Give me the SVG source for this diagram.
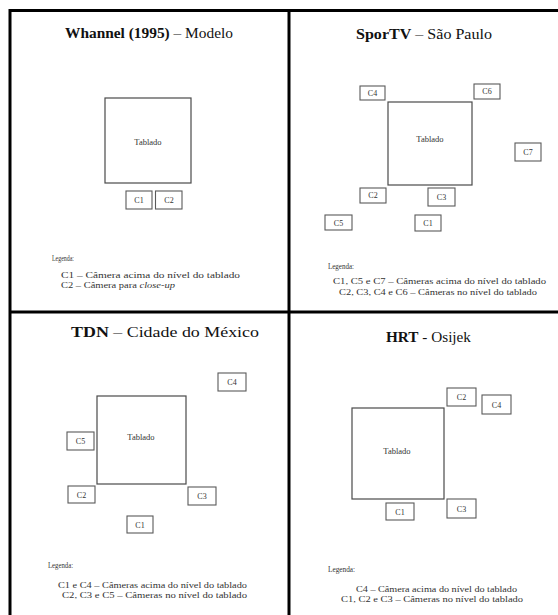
<svg xmlns="http://www.w3.org/2000/svg" width="558" height="615" viewBox="0 0 558 615" font-family="'Liberation Serif', 'DejaVu Serif', serif">
<style>
text{font-family:'Liberation Serif','DejaVu Serif',serif;fill:#1a1a1a}
.frame{stroke:#000;stroke-width:3;fill:none}
.stage{fill:#fff;stroke:#4a4a4a;stroke-width:1.2}
.cam{fill:#fff;stroke:#5a5a5a;stroke-width:1.1}
.camt{font-size:8px;text-anchor:middle;fill:#333}
.stt{font-size:8.5px;text-anchor:middle;fill:#333}
.title{font-size:14px;text-anchor:middle;fill:#111}
.b{font-weight:bold}
.leg{font-size:8px;fill:#333}
</style>
<rect width="558" height="615" fill="#fff"/>
<g id="frame">
<line class="frame" x1="10" y1="10.5" x2="560" y2="10.5"/>
<line class="frame" x1="10" y1="9" x2="10" y2="617"/>
<line class="frame" x1="289" y1="10" x2="289" y2="617"/>
<line class="frame" x1="10" y1="312" x2="560" y2="312"/>
</g>

<g id="panel-whannel">
<text class="title" x="149" y="38" textLength="168" lengthAdjust="spacingAndGlyphs"><tspan class="b">Whannel (1995)</tspan> – Modelo</text>
<g id="w-tablado"><rect class="stage" x="105" y="98" width="86" height="85"/><text class="stt" x="148" y="145">Tablado</text></g>
<g id="w-c1"><rect class="cam" x="126" y="191" width="26" height="18"/><text class="camt" x="139" y="203">C1</text></g>
<g id="w-c2"><rect class="cam" x="155.5" y="191" width="26.5" height="18"/><text class="camt" x="169" y="203">C2</text></g>
<g id="w-legend">
<text class="leg" x="52" y="261" textLength="22" lengthAdjust="spacingAndGlyphs">Legenda:</text>
<text class="leg" x="61" y="278" textLength="179" lengthAdjust="spacingAndGlyphs">C1 – Câmera acima do nível do tablado</text>
<text class="leg" x="61" y="288" textLength="114" lengthAdjust="spacingAndGlyphs">C2 – Câmera para <tspan font-style="italic">close-up</tspan></text>
</g>
</g>

<g id="panel-sportv">
<text class="title" x="424" y="39" textLength="136" lengthAdjust="spacingAndGlyphs"><tspan class="b">SporTV</tspan> – São Paulo</text>
<g id="s-tablado"><rect class="stage" x="388" y="102" width="84" height="83"/><text class="stt" x="430" y="142">Tablado</text></g>
<g id="s-c4"><rect class="cam" x="360" y="86" width="25" height="14"/><text class="camt" x="372.5" y="95.5">C4</text></g>
<g id="s-c6"><rect class="cam" x="474" y="84" width="26" height="15"/><text class="camt" x="487" y="94">C6</text></g>
<g id="s-c7"><rect class="cam" x="515" y="143" width="26" height="18"/><text class="camt" x="528" y="155">C7</text></g>
<g id="s-c2"><rect class="cam" x="360" y="188" width="26" height="15"/><text class="camt" x="373" y="198">C2</text></g>
<g id="s-c3"><rect class="cam" x="428" y="188" width="27" height="18"/><text class="camt" x="441.5" y="200">C3</text></g>
<g id="s-c5"><rect class="cam" x="325" y="215" width="27" height="15"/><text class="camt" x="338.5" y="225.5">C5</text></g>
<g id="s-c1"><rect class="cam" x="415" y="215" width="26" height="16"/><text class="camt" x="428" y="226">C1</text></g>
<g id="s-legend">
<text class="leg" x="328" y="269" textLength="26" lengthAdjust="spacingAndGlyphs">Legenda:</text>
<text class="leg" x="333" y="284" textLength="213" lengthAdjust="spacingAndGlyphs">C1, C5 e C7 – Câmeras acima do nível do tablado</text>
<text class="leg" x="339" y="295" textLength="198" lengthAdjust="spacingAndGlyphs">C2, C3, C4 e C6 – Câmeras no nível do tablado</text>
</g>
</g>

<g id="panel-tdn">
<text class="title" x="165" y="337" textLength="188" lengthAdjust="spacingAndGlyphs"><tspan class="b">TDN</tspan> – Cidade do México</text>
<g id="t-tablado"><rect class="stage" x="97" y="396" width="89" height="88"/><text class="stt" x="141" y="440">Tablado</text></g>
<g id="t-c4"><rect class="cam" x="218" y="373" width="28" height="18"/><text class="camt" x="232" y="385">C4</text></g>
<g id="t-c5"><rect class="cam" x="67" y="432" width="27" height="18"/><text class="camt" x="80.5" y="444">C5</text></g>
<g id="t-c2"><rect class="cam" x="68" y="486" width="27" height="17"/><text class="camt" x="81.5" y="497.5">C2</text></g>
<g id="t-c3"><rect class="cam" x="188" y="487" width="28" height="18"/><text class="camt" x="202" y="499">C3</text></g>
<g id="t-c1"><rect class="cam" x="127" y="516" width="26" height="17"/><text class="camt" x="140" y="527.5">C1</text></g>
<g id="t-legend">
<text class="leg" x="48" y="568" textLength="25" lengthAdjust="spacingAndGlyphs">Legenda:</text>
<text class="leg" x="58" y="588" textLength="189" lengthAdjust="spacingAndGlyphs">C1 e C4 – Câmeras acima do nível do tablado</text>
<text class="leg" x="62" y="598" textLength="185" lengthAdjust="spacingAndGlyphs">C2, C3 e C5 – Câmeras no nível do tablado</text>
</g>
</g>

<g id="panel-hrt">
<text class="title" x="428.5" y="342" textLength="85" lengthAdjust="spacingAndGlyphs"><tspan class="b">HRT</tspan> - Osijek</text>
<g id="h-tablado"><rect class="stage" x="352" y="408" width="92" height="91"/><text class="stt" x="397" y="454">Tablado</text></g>
<g id="h-c2"><rect class="cam" x="447" y="388" width="29" height="18"/><text class="camt" x="461.5" y="400">C2</text></g>
<g id="h-c4"><rect class="cam" x="482" y="395" width="29" height="19"/><text class="camt" x="496.5" y="407.5">C4</text></g>
<g id="h-c1"><rect class="cam" x="386" y="503" width="28" height="17"/><text class="camt" x="400" y="514.5">C1</text></g>
<g id="h-c3"><rect class="cam" x="447" y="499" width="29" height="19"/><text class="camt" x="461.5" y="511.5">C3</text></g>
<g id="h-legend">
<text class="leg" x="328" y="572" textLength="27" lengthAdjust="spacingAndGlyphs">Legenda:</text>
<text class="leg" x="356" y="592" textLength="161" lengthAdjust="spacingAndGlyphs">C4 – Câmera acima do nível do tablado</text>
<text class="leg" x="341" y="602" textLength="182" lengthAdjust="spacingAndGlyphs">C1, C2 e C3 – Câmeras no nível do tablado</text>
</g>
</g>
</svg>
